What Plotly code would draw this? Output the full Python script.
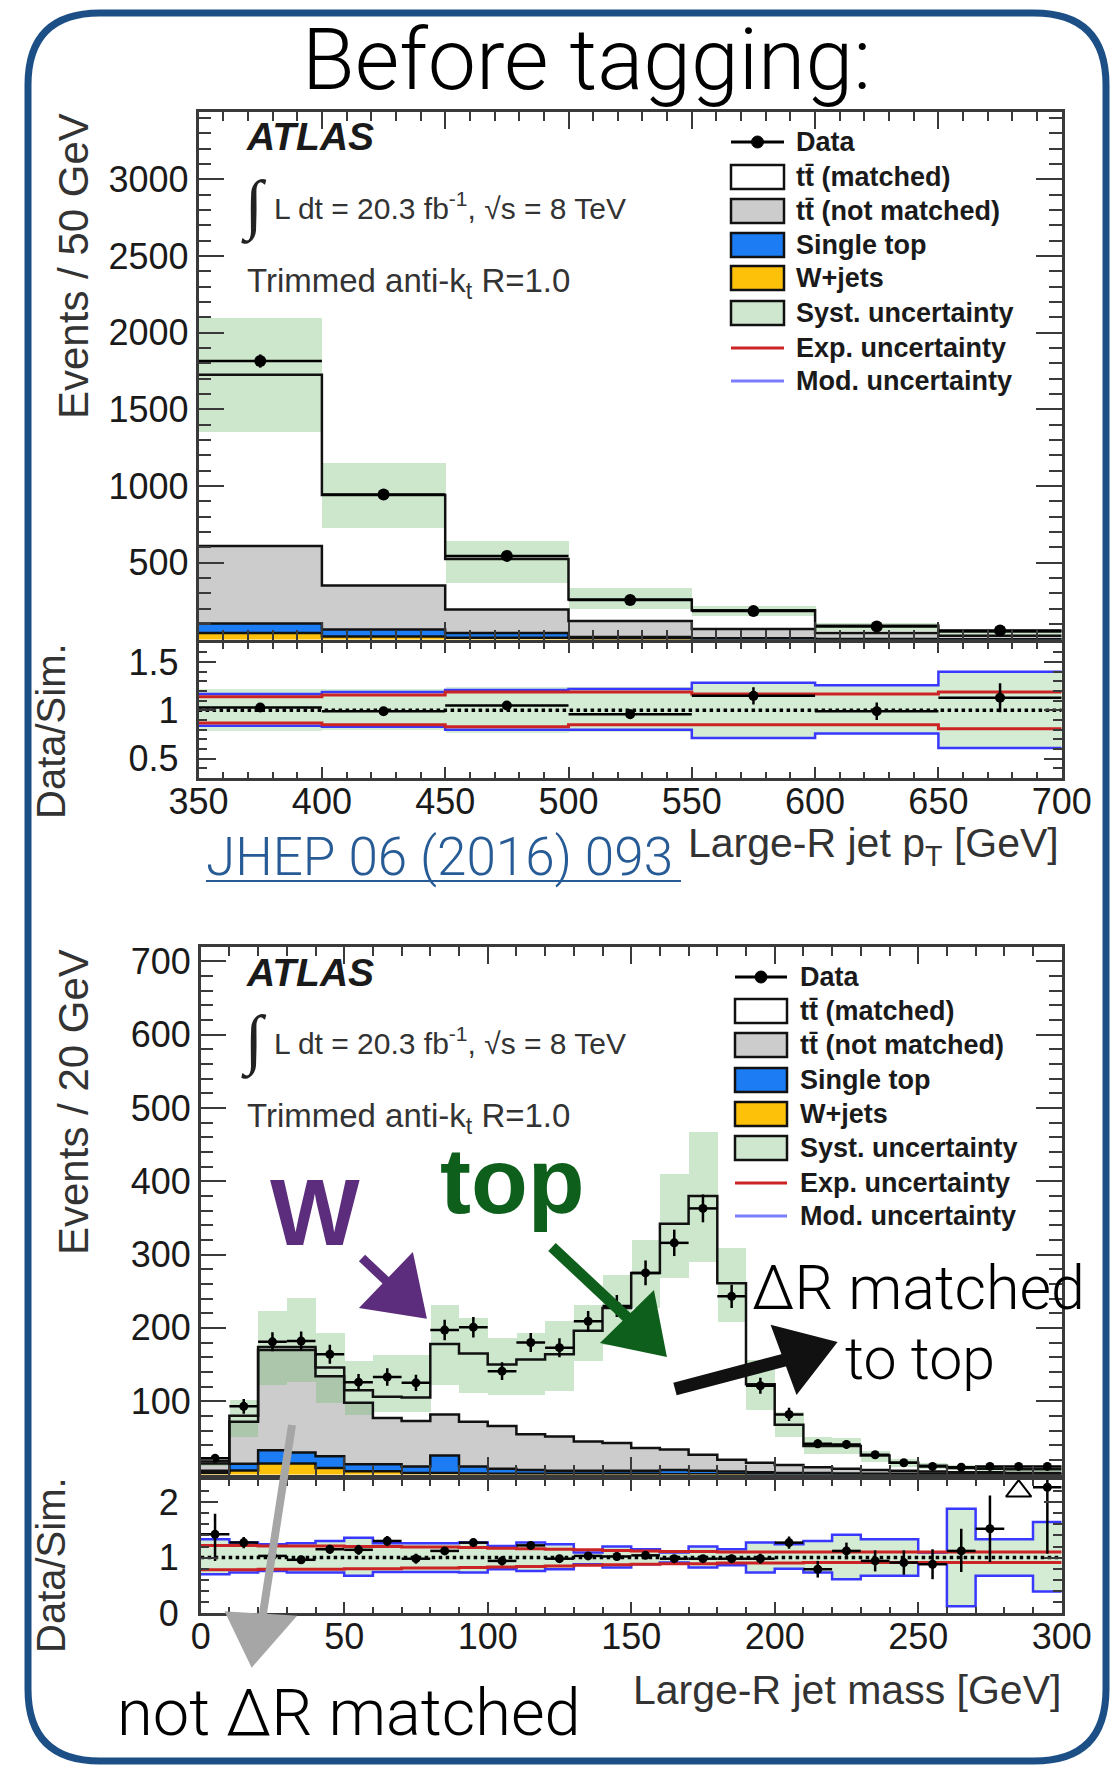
import numpy as np
import plotly.graph_objects as go

# ---------------------------------------------------------------- data
# Large-R jet pT (50 GeV bins)
pt_edges = [350, 400, 450, 500, 550, 600, 650, 700]
pt_data = [1815, 945, 545, 258, 185, 85, 58]
pt_data_err = [43, 31, 23, 16, 14, 9, 8]
pt_wjets = [42, 20, 12, 6, 3, 2, 1]
pt_single_top = [62, 45, 30, 10, 5, 2, 1]
pt_tt_not_matched = [506, 287, 153, 105, 60, 38, 23]
pt_tt_matched = [1115, 590, 330, 139, 123, 48, 27]
pt_syst_up = [2095, 1150, 645, 335, 218, 112, 72]
pt_syst_dn = [1355, 730, 370, 200, 158, 60, 30]

pt_ratio = [1.03, 0.99, 1.05, 0.96, 1.15, 0.99, 1.13]
pt_ratio_err = [0.03, 0.03, 0.04, 0.05, 0.09, 0.09, 0.15]
pt_ratio_syst_up = [1.22, 1.22, 1.24, 1.24, 1.29, 1.27, 1.41]
pt_ratio_syst_dn = [0.79, 0.80, 0.77, 0.78, 0.71, 0.75, 0.60]
pt_ratio_mod_up = [1.17, 1.19, 1.21, 1.22, 1.285, 1.26, 1.40]
pt_ratio_mod_dn = [0.84, 0.83, 0.80, 0.80, 0.715, 0.76, 0.61]
pt_ratio_exp_up = [1.14, 1.16, 1.19, 1.19, 1.17, 1.17, 1.19]
pt_ratio_exp_dn = [0.87, 0.85, 0.83, 0.85, 0.85, 0.85, 0.81]

# Large-R jet mass (10 GeV bins)
m_edges = [0, 10, 20, 30, 40, 50, 60, 70, 80, 90, 100, 110, 120, 130, 140, 150,
           160, 170, 180, 190, 200, 210, 220, 230, 240, 250, 260, 270, 280, 290, 300]
m_data = [22, 93, 181, 182, 164, 126, 133, 125, 197, 201, 141, 180, 173, 209, 230,
          275, 316, 363, 243, 121, 82, 42, 41, 27, 16, 11, 10, 11, 11, 11]
m_data_err = [5, 10, 13, 13, 13, 11, 12, 11, 14, 14, 12, 13, 13, 14, 15,
              17, 18, 19, 16, 11, 9, 6, 6, 5, 4, 3, 3, 3, 3, 3]
m_wjets = [2, 5.5, 15, 15, 9, 4.5, 4.5, 2, 2, 1.5, 1, 1, 1, 1, 1,
           1, 0.5, 0.5, 0.5, 0.5, 0.3, 0.3, 0.2, 0.2, 0.1, 0.1, 0.1, 0.1, 0.1, 0.1]
m_single_top = [3, 9, 18, 15, 16, 9.5, 9.5, 9, 24, 9.5, 7, 5, 4, 4, 4,
                4, 5.5, 4.5, 3.5, 2.5, 1.7, 1.7, 1.3, 0.8, 0.9, 0.9, 0.4, 0.4, 0.4, 0.4]
m_tt_not_matched = [10, 57.5, 137, 140, 109, 84, 63, 62, 56, 61, 58, 49, 47, 40, 38,
                    31, 28, 22, 16, 13, 11, 8, 6.5, 5, 4, 3, 2.5, 2.5, 1.5, 1.5]
m_tt_matched = [3, 8, 4, 4, 12, 17, 29, 32, 96, 93, 84, 102, 112, 151, 184,
                239, 308, 353, 241, 107, 55, 29, 31, 20, 11, 8, 6, 5, 5, 5]
m_syst_up = [24, 102, 224, 241, 193, 155, 163, 163, 232, 214, 186, 193, 210, 232, 273,
             320, 411, 468, 310, 157, 85, 52, 50, 33, 22, 16, 13, 11, 10, 10]
m_syst_dn = [12, 52, 123, 127, 98, 82, 86, 86, 123, 111, 109, 109, 115, 155, 177,
             227, 268, 290, 209, 88, 52, 28, 28, 18, 11, 8, 6, 5, 4, 4]

m_ratio = [1.42, 1.27, 1.03, 0.96, 1.15, 1.14, 1.30, 0.98, 1.12, 1.27, 0.94, 1.22, 0.98, 1.03, 1.02,
           1.04, 0.98, 0.98, 0.98, 0.98, 1.27, 0.79, 1.12, 0.94, 0.91, 0.88, 1.12, 1.52, None, 2.27]
m_ratio_err_up = [0.37, 0.10, 0.07, 0.07, 0.08, 0.09, 0.09, 0.09, 0.07, 0.07, 0.08, 0.07, 0.07, 0.07, 0.07,
                  0.06, 0.06, 0.05, 0.07, 0.09, 0.11, 0.15, 0.15, 0.19, 0.22, 0.27, 0.40, 0.60, 0, 0.13]
m_ratio_err_dn = [0.48, 0.10, 0.07, 0.07, 0.08, 0.09, 0.09, 0.09, 0.07, 0.07, 0.08, 0.07, 0.07, 0.07, 0.07,
                  0.06, 0.06, 0.05, 0.07, 0.09, 0.11, 0.15, 0.15, 0.19, 0.22, 0.27, 0.38, 0.60, 0, 1.20]
m_ratio_offscale_bins = [28]
m_ratio_mod_up = [1.33, 1.27, 1.24, 1.26, 1.30, 1.36, 1.26, 1.26, 1.26, 1.27, 1.21, 1.27, 1.24, 1.09, 1.20,
                  1.15, 1.09, 1.20, 1.15, 1.27, 1.24, 1.30, 1.41, 1.33, 1.33, 1.09, 1.88, 1.33, 1.33, 1.64]
m_ratio_mod_dn = [0.70, 0.73, 0.76, 0.73, 0.73, 0.67, 0.74, 0.74, 0.74, 0.73, 0.79, 0.76, 0.79, 0.88, 0.82,
                  0.88, 0.91, 0.82, 0.86, 0.73, 0.80, 0.73, 0.61, 0.67, 0.67, 0.91, 0.12, 0.67, 0.67, 0.39]
m_ratio_exp_up = [1.22, 1.22, 1.21, 1.21, 1.21, 1.20, 1.20, 1.19, 1.19, 1.18, 1.17, 1.16, 1.15, 1.14, 1.13,
                  1.12, 1.11, 1.11, 1.10, 1.10, 1.10, 1.10, 1.10, 1.10, 1.10, 1.10, 1.10, 1.10, 1.10, 1.10]
m_ratio_exp_dn = [0.78, 0.78, 0.79, 0.79, 0.79, 0.80, 0.80, 0.81, 0.81, 0.82, 0.83, 0.84, 0.85, 0.86, 0.87,
                  0.88, 0.89, 0.89, 0.90, 0.90, 0.90, 0.91, 0.91, 0.91, 0.91, 0.91, 0.91, 0.91, 0.91, 0.91]

legend_labels = ["Data", "tt\u0304 (matched)", "tt\u0304 (not matched)", "Single top",
                 "W+jets", "Syst. uncertainty", "Exp. uncertainty", "Mod. uncertainty"]

# ---------------------------------------------------------------- style
W, H = 1112, 1768
ROOT_FONT = "Liberation Sans, Arial, sans-serif"
SLIDE_FONT = "Roboto, Helvetica Neue, Arial, sans-serif"
C_WJETS = "#fdc10a"
C_SINGLE = "#1b7cf4"
C_NOTM = "#cccccc"
C_MATCH = "#ffffff"
C_BAND = "rgba(110,185,110,0.35)"
C_EXP = "#cc2424"
C_MOD = "#3838ff"
C_AXIS = "#3a3a3a"
OFFSCALE_Y = 2.2


def px(x):
    return x / W


def py(y):
    return 1 - y / H


fig = go.Figure()


def centers_widths(edges):
    e = np.asarray(edges, dtype=float)
    return (e[:-1] + e[1:]) / 2, np.diff(e)


def step(xa, ya, edges, vals, color, width, dash=None):
    v = np.asarray(vals, dtype=float)
    fig.add_trace(go.Scatter(
        x=list(edges), y=list(v) + [v[-1]], mode="lines",
        line=dict(shape="hv", color=color, width=width, dash=dash),
        xaxis=xa, yaxis=ya, hoverinfo="skip"))


def band(xa, ya, edges, lo, hi, color):
    c, w = centers_widths(edges)
    lo = np.asarray(lo, dtype=float)
    hi = np.asarray(hi, dtype=float)
    fig.add_trace(go.Bar(x=c, y=hi - lo, base=lo, width=w,
                         marker=dict(color=color, line=dict(width=0)),
                         xaxis=xa, yaxis=ya, hoverinfo="skip"))


def main_panel(xa, ya, edges, comps, syst_up, syst_dn, data, data_err, msize):
    c, w = centers_widths(edges)
    base = np.zeros(len(c))
    tops = []
    for vals, color in comps:
        v = np.asarray(vals, dtype=float)
        fig.add_trace(go.Bar(x=c, y=v, base=base.copy(), width=w,
                             marker=dict(color=color, line=dict(width=0)),
                             xaxis=xa, yaxis=ya, hoverinfo="skip"))
        base = base + v
        tops.append(base.copy())
    for t in tops:
        step(xa, ya, edges, t, "#111111", 2.5)
    band(xa, ya, edges, syst_dn, syst_up, C_BAND)
    fig.add_trace(go.Scatter(
        x=c, y=data, mode="markers",
        marker=dict(color="black", size=msize, symbol="circle"),
        error_x=dict(type="data", array=w / 2, thickness=2.5, width=0, color="black"),
        error_y=dict(type="data", array=data_err, thickness=2.5, width=0, color="black"),
        xaxis=xa, yaxis=ya, hoverinfo="skip"))


def ratio_panel(xa, ya, edges, s_up, s_dn, mod_up, mod_dn, exp_up, exp_dn,
                ratio, err_up, err_dn, xrange, msize):
    c, w = centers_widths(edges)
    band(xa, ya, edges, s_dn, s_up, "rgba(120,195,120,0.32)")
    step(xa, ya, edges, mod_up, C_MOD, 2.5)
    step(xa, ya, edges, mod_dn, C_MOD, 2.5)
    step(xa, ya, edges, exp_up, C_EXP, 3)
    step(xa, ya, edges, exp_dn, C_EXP, 3)
    fig.add_trace(go.Scatter(x=xrange, y=[1, 1], mode="lines",
                             line=dict(color="black", width=3.5, dash="dot"),
                             xaxis=xa, yaxis=ya, hoverinfo="skip"))
    fig.add_trace(go.Scatter(
        x=c, y=ratio, mode="markers",
        marker=dict(color="black", size=msize),
        error_x=dict(type="data", array=w / 2, thickness=2.5, width=0, color="black"),
        error_y=dict(type="data", symmetric=False, array=err_up, arrayminus=err_dn,
                     thickness=2.5, width=0, color="black"),
        xaxis=xa, yaxis=ya, hoverinfo="skip"))


# ---- pT plot
main_panel("x", "y", pt_edges,
           [(pt_wjets, C_WJETS), (pt_single_top, C_SINGLE),
            (pt_tt_not_matched, C_NOTM), (pt_tt_matched, C_MATCH)],
           pt_syst_up, pt_syst_dn, pt_data, pt_data_err, 12)
ratio_panel("x2", "y2", pt_edges, pt_ratio_syst_up, pt_ratio_syst_dn,
            pt_ratio_mod_up, pt_ratio_mod_dn, pt_ratio_exp_up, pt_ratio_exp_dn,
            pt_ratio, pt_ratio_err, pt_ratio_err, [pt_edges[0], pt_edges[-1]], 10)

# ---- mass plot
main_panel("x3", "y3", m_edges,
           [(m_wjets, C_WJETS), (m_single_top, C_SINGLE),
            (m_tt_not_matched, C_NOTM), (m_tt_matched, C_MATCH)],
           m_syst_up, m_syst_dn, m_data, m_data_err, 9)
ratio_panel("x4", "y4", m_edges, m_ratio_mod_up, m_ratio_mod_dn,
            m_ratio_mod_up, m_ratio_mod_dn, m_ratio_exp_up, m_ratio_exp_dn,
            m_ratio, m_ratio_err_up, m_ratio_err_dn, [m_edges[0], m_edges[-1]], 9)
mc, _ = centers_widths(m_edges)
fig.add_trace(go.Scatter(
    x=[mc[i] for i in m_ratio_offscale_bins], y=[OFFSCALE_Y] * len(m_ratio_offscale_bins),
    mode="markers", marker=dict(symbol="triangle-up-open", size=22, color="black",
                                line=dict(width=2, color="black")),
    xaxis="x4", yaxis="y4", hoverinfo="skip"))

# ---------------------------------------------------------------- axes
tickfont = dict(family=ROOT_FONT, size=36, color="#1a1a1a")


def xaxis(domain, anchor, rng, dtick, minor, labels, ticklen):
    return dict(domain=domain, anchor=anchor, range=rng, tick0=rng[0], dtick=dtick,
                showticklabels=labels, ticks="inside", ticklen=ticklen, tickwidth=2,
                tickcolor=C_AXIS, showline=True, linecolor=C_AXIS, linewidth=2.5,
                mirror="allticks", showgrid=False, zeroline=False, tickfont=tickfont,
                automargin=False, ticklabelstandoff=-10,
                minor=dict(ticks="inside", ticklen=ticklen * 0.55, tickwidth=1.5,
                           tickcolor=C_AXIS, dtick=minor, tick0=rng[0], showgrid=False))


def yaxis(domain, anchor, rng, tickvals, ticktext, minor, ticklen, standoff=0):
    return dict(domain=domain, anchor=anchor, range=rng, tickmode="array",
                tickvals=tickvals, ticktext=ticktext, ticks="inside", ticklen=ticklen,
                tickwidth=2, tickcolor=C_AXIS, showline=True, linecolor=C_AXIS,
                linewidth=2.5, mirror="allticks", showgrid=False, zeroline=False,
                tickfont=tickfont, automargin=False, ticklabelstandoff=standoff,
                minor=dict(ticks="inside", ticklen=ticklen * 0.5, tickwidth=1.5,
                           tickcolor=C_AXIS, dtick=minor, tick0=0, showgrid=False))


xd_top = [px(198.6), px(1061.7)]
xd_bot = [px(200.7), px(1061.7)]
fig.update_layout(
    template="none",
    xaxis=xaxis(xd_top, "y", [350, 700], 50, 10, False, 18),
    yaxis=yaxis([py(639.5), py(111.7)], "x", [0, 3440],
                [500, 1000, 1500, 2000, 2500, 3000],
                ["500", "1000", "1500", "2000", "2500", "3000"], 100, 26),
    xaxis2=xaxis(xd_top, "y2", [350, 700], 50, 10, True, 11),
    yaxis2=yaxis([py(778), py(642.7)], "x2", [0.3, 1.7], [0.5, 1, 1.5],
                 ["0.5", "1", "1.5"], 0.1, 18, 10),
    xaxis3=xaxis(xd_bot, "y3", [0, 300], 50, 10, False, 18),
    yaxis3=yaxis([py(1474.5), py(946.7)], "x3", [0, 720],
                 [100, 200, 300, 400, 500, 600, 700],
                 ["100", "200", "300", "400", "500", "600", "700"], 20, 26),
    xaxis4=xaxis(xd_bot, "y4", [0, 300], 50, 10, True, 11),
    yaxis4=yaxis([py(1613), py(1480)], "x4", [0, 2.4], [0, 1, 2], ["0", "1", "2"],
                 0.2, 18, 12),
)

# ---------------------------------------------------------------- text
ann = []


def text(t, x, y, size, family=ROOT_FONT, color="#1a1a1a", xanchor="left",
         yanchor="middle", angle=0, weight="normal", style="normal"):
    ann.append(dict(text=t, x=px(x), y=py(y), xref="paper", yref="paper",
                    xanchor=xanchor, yanchor=yanchor, showarrow=False, textangle=angle,
                    font=dict(family=family, size=size, color=color, weight=weight,
                              style=style)))


text("Before tagging:", 586, 60, 86, SLIDE_FONT, "#000000", "center", weight=300)

# axis titles
text("Events / 50 GeV", 73, 266, 42, color="#333333", xanchor="center", angle=-90)
text("Data/Sim.", 51, 731, 40, color="#333333", xanchor="center", angle=-90)
text("Large-R jet p<sub>T</sub> [GeV]", 1061, 846, 41, color="#333333", xanchor="right")
text("Events / 20 GeV", 73, 1102, 42, color="#333333", xanchor="center", angle=-90)
text("Data/Sim.", 51, 1565, 40, color="#333333", xanchor="center", angle=-90)
text("Large-R jet mass [GeV]", 1063, 1690, 41, color="#333333", xanchor="right")

# in-plot labels
for top_y in (137, 972):
    dy = top_y - 137
    text("<b><i>ATLAS</i></b>", 244, 137 + dy, 39)
    text("\u222B", 254, 204 + dy, 66, "DejaVu Sans", "#222222", "center", weight=200)
    text("L dt = 20.3 fb<sup>-1</sup>, \u221As = 8 TeV", 272, 206 + dy, 30, color="#333333")
    text("Trimmed anti-k<sub>t</sub> R=1.0", 245, 283 + dy, 33, color="#333333")

# legends
shapes = []
LEG_STYLE = [("line", "black"), ("box", C_MATCH), ("box", C_NOTM), ("box", C_SINGLE),
             ("box", C_WJETS), ("box", "#cfe6cf"), ("line", C_EXP), ("line", "#7b7bff")]
for rows, x0, x1, tx in (([142, 177, 211, 245, 278, 313, 348, 381], 731, 784, 794),
                          ([977, 1011, 1045, 1080, 1114, 1148, 1183, 1216], 735, 787, 798)):
    for (kind, color), label, ry in zip(LEG_STYLE, legend_labels, rows):
        if kind == "box":
            shapes.append(dict(type="rect", xref="paper", yref="paper",
                               x0=px(x0), x1=px(x1), y0=py(ry + 12), y1=py(ry - 12),
                               fillcolor=color, line=dict(color="#111111", width=2.5)))
        else:
            shapes.append(dict(type="line", xref="paper", yref="paper",
                               x0=px(x0), x1=px(x1), y0=py(ry), y1=py(ry),
                               line=dict(color=color, width=3)))
            if label == "Data":
                shapes.append(dict(type="circle", xref="paper", yref="paper",
                                   x0=px((x0 + x1) / 2 - 6), x1=px((x0 + x1) / 2 + 6),
                                   y0=py(ry + 6), y1=py(ry - 6),
                                   fillcolor="black", line=dict(color="black", width=1)))
        text("<b>" + label + "</b>", tx, ry, 27, color="#1a1a1a")

# reference link
text("JHEP 06 (2016) 093", 204, 857, 53, SLIDE_FONT, "#275b96", weight=300)
shapes.append(dict(type="line", xref="paper", yref="paper", x0=px(206), x1=px(681),
                   y0=py(881), y1=py(881), line=dict(color="#275b96", width=2)))

# hand annotations
text("<b>W</b>", 315, 1212, 95, "Liberation Sans, Arial", "#5c2d7d", "center")
text("<b>top</b>", 512, 1181, 93, "Liberation Sans, Arial", "#0e5e1c", "center")
text("\u0394R matched", 750, 1288, 61, SLIDE_FONT, "#000000", weight=300)
text("to top", 843, 1358, 59, SLIDE_FONT, "#000000", weight=300)
text("not \u0394R matched", 115, 1713, 65, SLIDE_FONT, "#000000", weight=300)


def arrow(tail, neck, head_pts, color, width):
    shapes.append(dict(type="line", xref="paper", yref="paper", layer="above",
                       x0=px(tail[0]), y0=py(tail[1]), x1=px(neck[0]), y1=py(neck[1]),
                       line=dict(color=color, width=width)))
    p = "M {} {} L {} {} L {} {} Z".format(
        px(head_pts[0][0]), py(head_pts[0][1]), px(head_pts[1][0]), py(head_pts[1][1]),
        px(head_pts[2][0]), py(head_pts[2][1]))
    shapes.append(dict(type="path", path=p, xref="paper", yref="paper", layer="above",
                       fillcolor=color, line=dict(color=color, width=3)))


arrow((362, 1258), (398, 1292), [(412, 1255), (362, 1307), (425, 1317)], "#5c2d7d", 9)
arrow((552, 1247), (632, 1322), [(653, 1293), (603, 1342), (665, 1355)], "#0e5e1c", 11)
arrow((675, 1389), (800, 1356), [(773, 1327), (797, 1392), (835, 1343)], "#111111", 13)
arrow((292, 1425), (262, 1620), [(227, 1613), (294, 1617), (252, 1665)], "#a6a6a6", 8)

# rounded frame around the slide panel
x0, x1, y0, y1, r = 28, 1106, 13, 1761, 72
frame = ("M {a} {b} L {c} {b} Q {d} {b} {d} {e} L {d} {f} Q {d} {g} {c} {g} "
         "L {a} {g} Q {h} {g} {h} {f} L {h} {e} Q {h} {b} {a} {b} Z").format(
    a=px(x0 + r), b=py(y0), c=px(x1 - r), d=px(x1), e=py(y0 + r), f=py(y1 - r),
    g=py(y1), h=px(x0))
shapes.append(dict(type="path", path=frame, xref="paper", yref="paper", layer="above",
                   line=dict(color="#1c4f86", width=7)))

fig.update_layout(
    width=W, height=H, margin=dict(l=0, r=0, t=0, b=0, autoexpand=False),
    paper_bgcolor="white", plot_bgcolor="white",
    barmode="overlay", bargap=0, showlegend=False,
    annotations=ann, shapes=shapes,
)

fig.write_html("out.html")
